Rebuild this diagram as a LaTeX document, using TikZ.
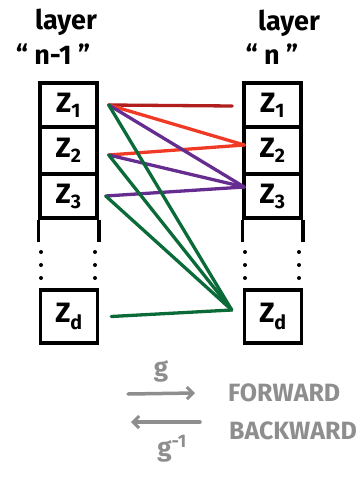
\documentclass[tikz,border=0pt]{standalone}
\usepackage{fontspec}
\setmainfont{Fira Sans}
\usetikzlibrary{arrows.meta}
\definecolor{cdred}{HTML}{B01E1E}
\definecolor{corange}{HTML}{F03A26}
\definecolor{cpurple}{HTML}{662D91}
\definecolor{cgreen}{HTML}{0B6B38}
\definecolor{cgray}{HTML}{8E8E8E}
\begin{document}
\begin{tikzpicture}[x=1pt,y=-1pt,
  cell/.style={draw, line width=3.5pt, minimum width=57pt, minimum height=44pt, inner sep=0pt,
    font=\fontsize{28}{28}\selectfont\bfseries},
  head/.style={font=\fontsize{27}{27}\selectfont\bfseries, inner sep=0pt},
  link/.style={line width=3.3pt, line cap=round},
  side/.style={line width=3.5pt},
  dotm/.style={fill=black},
  gtext/.style={text=cgray, font=\fontsize{25}{25}\selectfont\bfseries, inner sep=0pt},
  garrow/.style={draw=cgray, line width=3.5pt, line cap=round, -{Straight Barb[length=6pt,width=12pt,line width=3pt]}}
]
\useasboundingbox (0,0) rectangle (359,481);

% headers
\node[head] (hl1) at (66,22) {layer};
\node[head] (hl2) at (53,54) {“ n-1 ”};
\node[head] (hr1) at (289,23) {layer};
\node[head] (hr2) at (272,54) {“ n ”};

% left column
\node[cell] (L1) at (68.5,105) {Z\textsubscript{1}};
\node[cell, minimum height=47pt] (L2) at (68.5,150.5) {Z\textsubscript{2}};
\node[cell] (L3) at (68.5,196) {Z\textsubscript{3}};
\node[cell, minimum height=53pt] (Ld) at (69,316.5) {Z\textsubscript{d}};
% right column
\node[cell] (R1) at (272.5,105) {Z\textsubscript{1}};
\node[cell, minimum height=47pt] (R2) at (272.5,150.5) {Z\textsubscript{2}};
\node[cell] (R3) at (272.5,196) {Z\textsubscript{3}};
\node[cell, minimum height=53pt] (Rd) at (273,316.5) {Z\textsubscript{d}};

% column continuations
\draw[side] (L3.south west) -- ++(0,22);
\draw[side] (L3.south east) -- ++(0,22);
\draw[side] (R3.south west) -- ++(0,22);
\draw[side] (R3.south east) -- ++(0,22);
\foreach \yy in {252,265,278}{
  \fill[dotm] (41,\yy) circle (2pt);
  \fill[dotm] (95,\yy) circle (2pt);
  \fill[dotm] (245,\yy) circle (2pt);
  \fill[dotm] (299,\yy) circle (2pt);
}

% anchors
\coordinate (a1) at ([xshift=10pt]L1.east);
\coordinate (a2) at ([xshift=10pt,yshift=-4.5pt]L2.east);
\coordinate (a3) at ([xshift=7pt]L3.east);
\coordinate (ad) at ([xshift=12pt]Ld.east);
\coordinate (b1) at ([xshift=-10pt,yshift=-1pt]R1.west);
\coordinate (b2) at ([xshift=2pt,yshift=5.5pt]R2.west);
\coordinate (b3) at ([xshift=2pt,yshift=9pt]R3.west);
\coordinate (bd) at ([xshift=-11pt,yshift=6.5pt]Rd.west);

% links
\draw[link, cdred] (a1) -- (b1);
\draw[link, corange] (a1) -- (b2);
\draw[link, corange] (a2) -- (b2);
\draw[link, cpurple] (a1) -- (b3);
\draw[link, cpurple] (a2) -- (b3);
\draw[link, cpurple] (a3) -- (b3);
\draw[link, cgreen] (a1) -- (bd);
\draw[link, cgreen] (a2) -- (bd);
\draw[link, cgreen] (a3) -- (bd);
\draw[link, cgreen] (ad) -- (bd);

% legend
\coordinate (f0) at (128,394);
\coordinate (f1) at (195,393);
\coordinate (k0) at (200,422);
\coordinate (k1) at (131,422);
\draw[garrow] (f0) -- (f1);
\draw[garrow] (k0) -- (k1);
\node[gtext, font=\fontsize{26}{26}\selectfont\bfseries] (g) at (161,371) {g};
\node[gtext, font=\fontsize{26}{26}\selectfont\bfseries] (gi) at (172,449) {g\textsuperscript{-1}};
\node[gtext, anchor=west] (fw) at (228,393) {FORWARD};
\node[gtext, anchor=west] (bw) at (229,431) {BACKWARD};
\end{tikzpicture}
\end{document}
